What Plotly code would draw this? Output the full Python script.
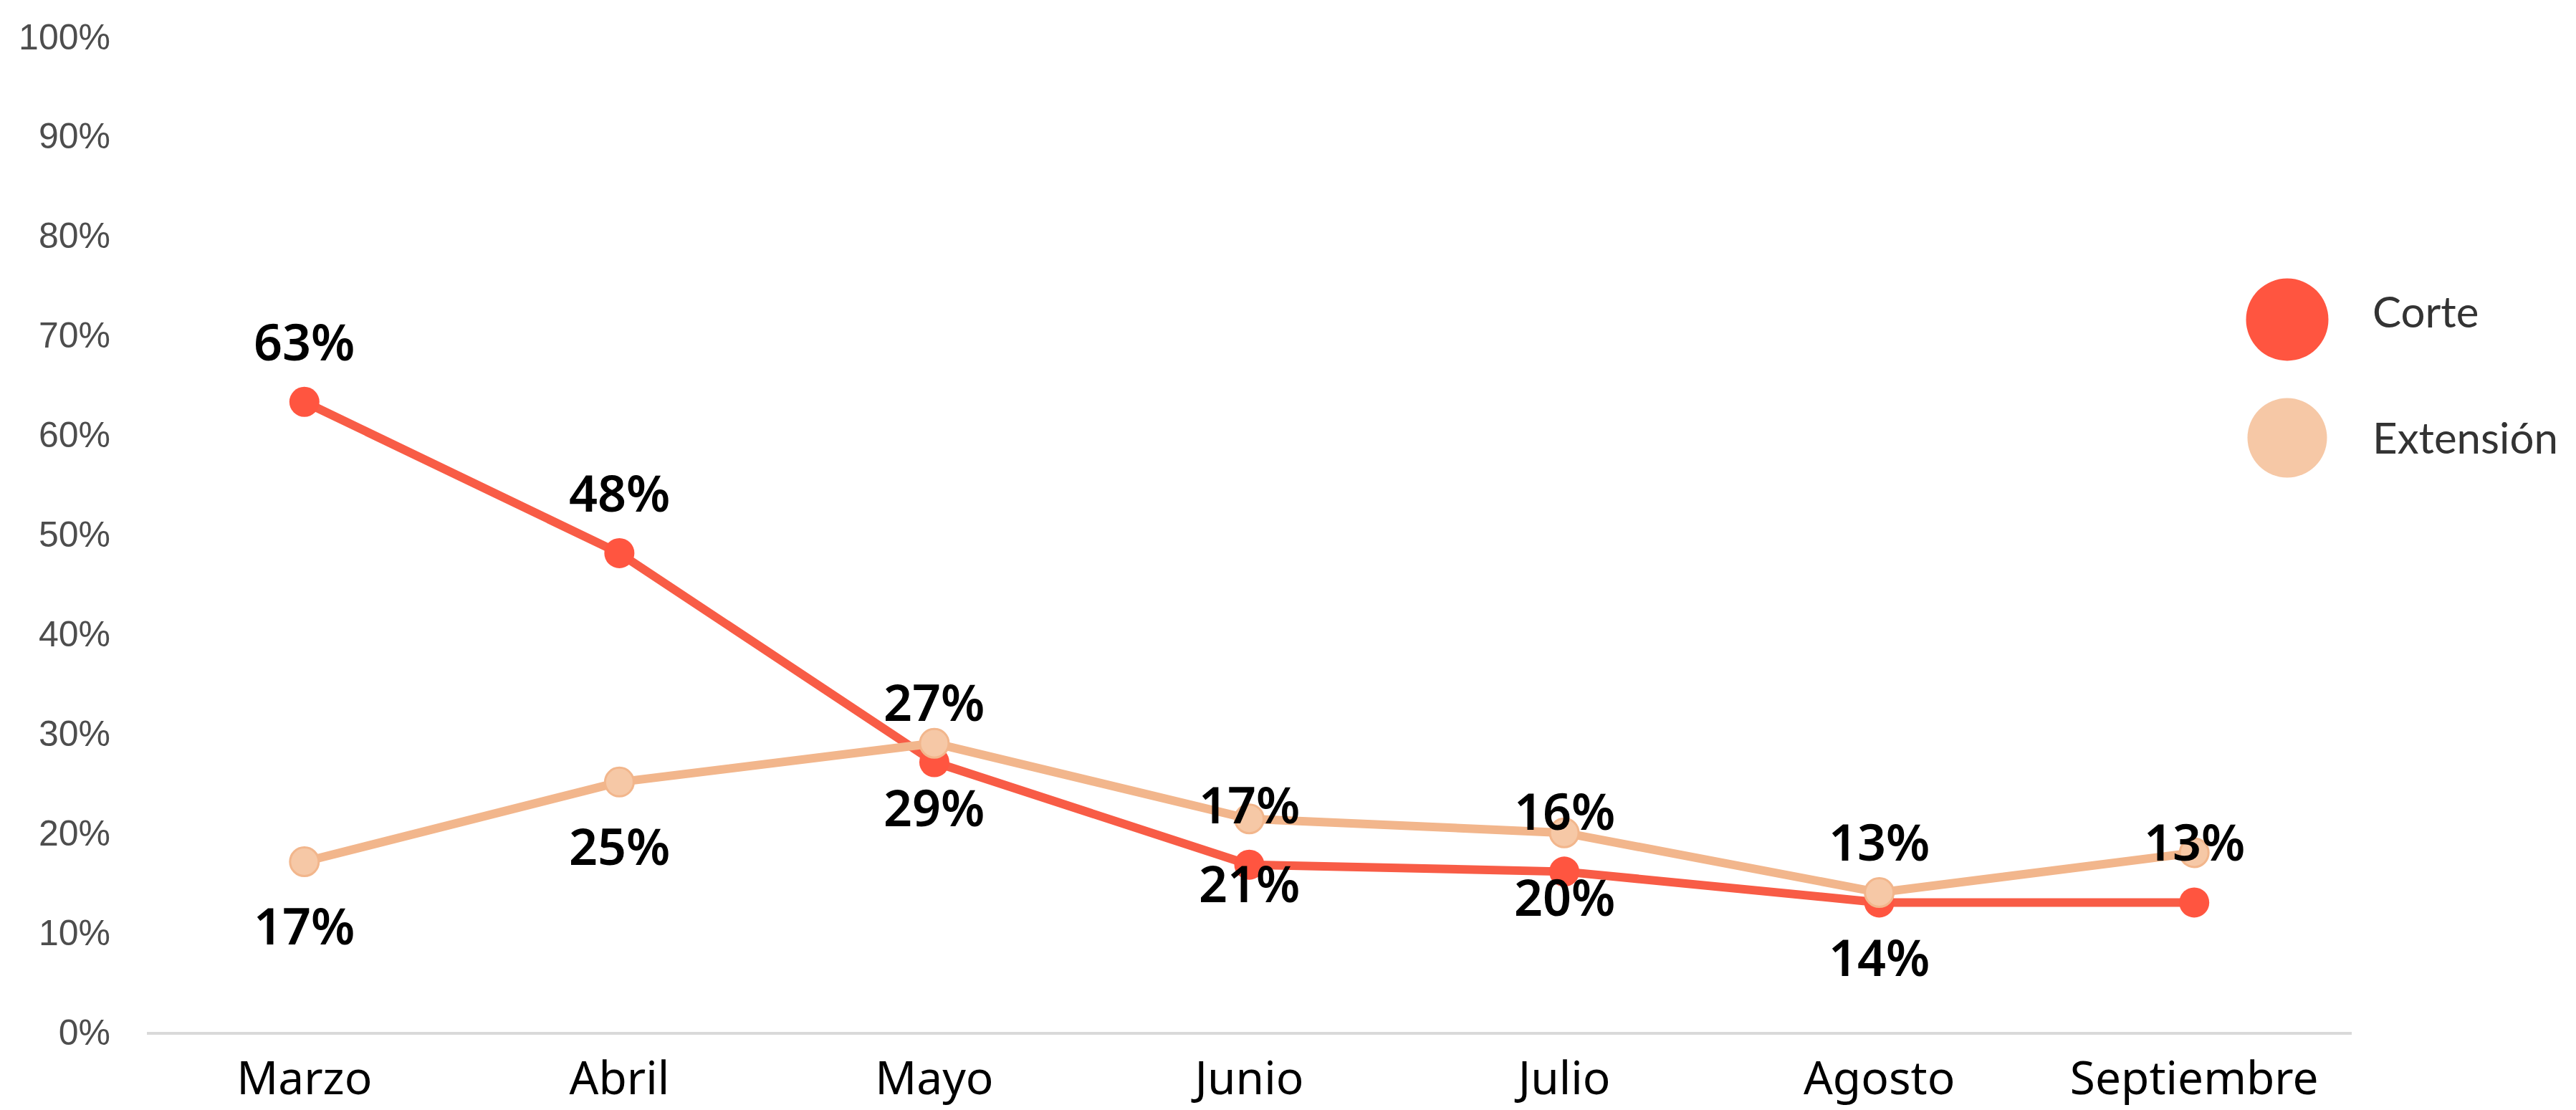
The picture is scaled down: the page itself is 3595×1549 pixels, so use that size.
import plotly.graph_objects as go

months = ["Marzo", "Abril", "Mayo", "Junio", "Julio", "Agosto", "Septiembre"]
corte = [63.3, 48.1, 27.1, 16.8, 16.1, 13.0, 13.0]
extension = [17.1, 25.1, 29.0, 21.4, 20.0, 14.0, 18.0]
corte_labels = ["63%", "48%", "27%", "17%", "16%", "13%", "13%"]
ext_labels = ["17%", "25%", "29%", "21%", "20%", "14%", ""]
y_ticks = list(range(0, 101, 10))
y_tick_text = [f"{v}%" for v in y_ticks]
series_names = ["Corte", "Extensión"]

C_CORTE = "#FF5540"
C_CORTE_LINE = "#F85C46"
C_EXT = "#F6C8A6"
C_EXT_LINE = "#F2B68C"

# page body has an 8px default margin
OFF = 8
W, H = 3595 - OFF, 1549 - OFF
ML, MR, MT, MB = 205 - OFF, 313, 51 - OFF, 109
PW = W - ML - MR
PH = H - MT - MB

fig = go.Figure()
fig.add_trace(go.Scatter(
    x=months, y=corte, mode="lines+markers", name=series_names[0],
    line=dict(color=C_CORTE_LINE, width=12),
    marker=dict(color=C_CORTE, size=42, line=dict(width=0)),
    showlegend=False,
))
fig.add_trace(go.Scatter(
    x=months, y=extension, mode="lines+markers", name=series_names[1],
    line=dict(color=C_EXT_LINE, width=12),
    marker=dict(color=C_EXT, size=40, line=dict(color=C_EXT_LINE, width=3)),
    showlegend=False,
))

label_font = dict(family="Noto Sans", size=70, color="#000000", weight=600)
for m, v, t in zip(months, corte, corte_labels):
    if t:
        fig.add_annotation(x=m, y=v, text=t, showarrow=False, yshift=85,
                           font=label_font, xanchor="center", yanchor="middle")
for m, v, t in zip(months, extension, ext_labels):
    if t:
        fig.add_annotation(x=m, y=v, text=t, showarrow=False, yshift=-89,
                           font=label_font, xanchor="center", yanchor="middle")


def px_to_paper_x(px):
    return (px - OFF - ML) / PW


def px_to_paper_y(py):
    return (H - MB - (py - OFF)) / PH


legend_items = [
    (series_names[0], C_CORTE, 446, 434, 115),
    (series_names[1], C_EXT, 611, 610, 111),
]
for name, col, cy, ty, d in legend_items:
    fig.add_shape(type="circle", xref="paper", yref="paper",
                  xsizemode="pixel", ysizemode="pixel",
                  xanchor=px_to_paper_x(3192), yanchor=px_to_paper_y(cy),
                  x0=-d / 2, x1=d / 2, y0=-d / 2, y1=d / 2,
                  fillcolor=col, line=dict(width=0))
    fig.add_annotation(xref="paper", yref="paper", x=px_to_paper_x(3309),
                       y=px_to_paper_y(ty), text=name, showarrow=False,
                       xanchor="left", yanchor="middle",
                       font=dict(family="Lato", size=60, color="#333333"))

fig.update_layout(
    width=W, height=H,
    margin=dict(l=ML, r=MR, t=MT, b=MB, pad=0, autoexpand=False),
    paper_bgcolor="white", plot_bgcolor="white",
    showlegend=False,
)
fig.update_xaxes(
    type="category", range=[-0.5, 6.5], automargin=False,
    showgrid=False, zeroline=False,
    showline=True, linecolor="#D9D9D9", linewidth=4,
    ticks="", ticklabelstandoff=6,
    tickfont=dict(family="Noto Sans", size=64, color="#000000"),
)
fig.update_yaxes(
    range=[0, 100], tickvals=y_ticks, ticktext=y_tick_text, automargin=False,
    showgrid=False, zeroline=False, showline=False,
    ticks="", ticklabelstandoff=50,
    tickfont=dict(family="Liberation Sans", size=50, color="#4D4D4D"),
)

fig.write_html("out.html")
